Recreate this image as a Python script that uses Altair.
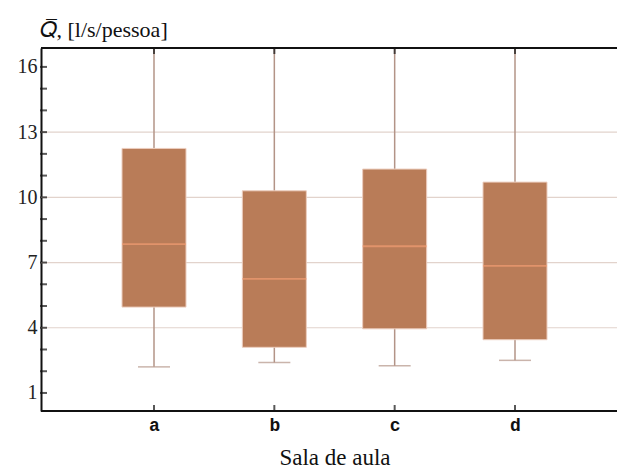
import altair as alt
import pandas as pd

# Data
sala = ["a", "b", "c", "d"]
whisker_low = [2.2, 2.4, 2.25, 2.5]
q1 = [4.95, 3.1, 3.95, 3.45]
median = [7.85, 6.25, 7.75, 6.85]
q3 = [12.25, 10.3, 11.3, 10.7]
whisker_high = [19.0, 19.0, 19.0, 19.0]  # beyond the visible range (clipped)

y_label_values = [1, 4, 7, 10, 13, 16]
y_minor_ticks = list(range(1, 17))
grid_values = [4, 7, 10, 13]

W, H = 576, 363

df = pd.DataFrame({"sala": sala, "lo": whisker_low, "q1": q1,
                   "med": median, "q3": q3, "hi": whisker_high})
ticks_df = pd.DataFrame({"v": y_minor_ticks})
grid_df = pd.DataFrame({"v": grid_values})

yscale = alt.Scale(domain=[0.17, 16.87], nice=False, zero=False)
xscale = alt.Scale(type="point", range=[113, 474], padding=0)

serif = "'Liberation Serif', serif"
mono = "'Liberation Mono', 'Courier New', monospace"

x_enc = alt.X("sala:N", scale=xscale, sort=sala,
              axis=alt.Axis(title="Sala de aula", titleFont=serif, titleFontSize=23,
                            titleFontWeight="normal", titleColor="#111", titlePadding=12,
                            labelFont=mono, labelFontWeight="bold",
                            labelFontSize=18, labelColor="#111", labelPadding=5,
                            ticks=False, domain=False, grid=False, labelAngle=0))

grid = alt.Chart(grid_df).mark_rule(color="#E2D3CC", strokeWidth=1.2).encode(
    y=alt.Y("v:Q", scale=yscale,
            axis=alt.Axis(values=y_label_values, title="𝑄̅, [l/s/pessoa]",
                          titleAngle=0, titleAlign="left", titleBaseline="alphabetic",
                          titleX=-2, titleY=-12, titleFont=serif, titleFontSize=22,
                          titleFontWeight="normal", titleColor="#111",
                          labelFont=serif, labelFontSize=20, labelColor="#222",
                          labelPadding=4, ticks=False, grid=False,
                          domain=True, domainColor="#111", domainWidth=2)),
    x=alt.value(0), x2=alt.value(W))

whisk = alt.Chart(df).mark_rule(color="#B39487", strokeWidth=1.5, clip=True).encode(
    x=x_enc, y=alt.Y("lo:Q", scale=yscale), y2="hi:Q")

cap = alt.Chart(df).mark_tick(color="#B39487", thickness=1.5, size=32,
                              orient="horizontal").encode(
    x=alt.X("sala:N", scale=xscale, sort=sala), y=alt.Y("lo:Q", scale=yscale))

box = alt.Chart(df).mark_bar(size=64, color="#B97C58", stroke="#ECCDBE",
                             strokeWidth=1).encode(
    x=alt.X("sala:N", scale=xscale, sort=sala),
    y=alt.Y("q1:Q", scale=yscale), y2="q3:Q")

med = alt.Chart(df).mark_tick(color="#F29C74", thickness=1.8, size=64,
                              orient="horizontal").encode(
    x=alt.X("sala:N", scale=xscale, sort=sala), y=alt.Y("med:Q", scale=yscale))

left_ticks = alt.Chart(ticks_df).mark_tick(color="#111", thickness=2, size=7,
                                           orient="horizontal").encode(
    y=alt.Y("v:Q", scale=yscale), x=alt.value(2.5))

top_ticks = alt.Chart(df).mark_tick(color="#111", thickness=2, size=7,
                                    orient="vertical").encode(
    x=alt.X("sala:N", scale=xscale, sort=sala), y=alt.value(2.5))

bottom_ticks = alt.Chart(df).mark_tick(color="#111", thickness=2, size=7,
                                       orient="vertical").encode(
    x=alt.X("sala:N", scale=xscale, sort=sala), y=alt.value(H - 2.5))

top_line = alt.Chart(df).mark_rule(color="#111", strokeWidth=2).encode(
    x=alt.value(0), x2=alt.value(W), y=alt.value(0))

bottom_line = alt.Chart(df).mark_rule(color="#111", strokeWidth=2).encode(
    x=alt.value(0), x2=alt.value(W), y=alt.value(H))

chart = alt.layer(grid, whisk, cap, box, med, left_ticks, top_ticks,
                  bottom_ticks, top_line, bottom_line).properties(
    width=W, height=H,
    autosize=alt.AutoSizeParams(type="none"),
    padding={"left": 41, "top": 48, "right": 0, "bottom": 65},
).configure_view(stroke=None).configure(background="white")

chart.save("out.html", embed_options={"renderer": "svg", "actions": False})
